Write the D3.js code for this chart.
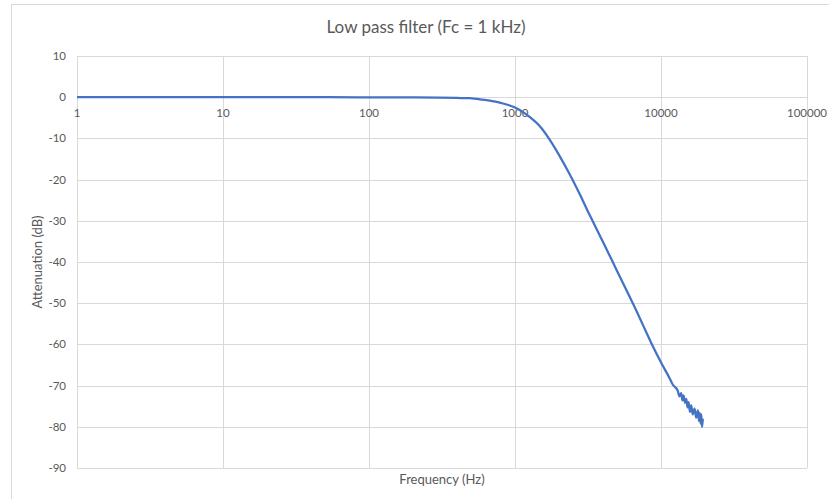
<!DOCTYPE html>
<html>
<head>
<meta charset="utf-8">
<script src="https://cdn.jsdelivr.net/npm/d3@7"></script>
<style>
  body { margin: 0; background: #fff; }
  text { font-family: Lato, "Open Sans", sans-serif; fill: #595959; }
</style>
</head>
<body>
<div id="chart"></div>
<script>
// frequency (Hz) and attenuation (dB)
var freqs = [1, 2, 5, 10, 20, 50, 100, 200, 300, 400, 490, 600, 700, 786, 900, 1000,
  1259, 1500, 1727, 2000, 2368, 2483, 2800, 3247, 3510, 4000, 4570, 5350, 6265, 6425,
  7500, 8590, 10050, 11450, 12060, 13000, 13400, 13770, 14000, 14280, 14600, 14900, 15200,
  15450, 15800, 16110, 16500, 16980, 17400, 17900, 18200, 18400, 18700, 18870, 19100, 19350];
var dbs = [0, 0, 0, 0, 0, 0, -0.02, -0.05, -0.1, -0.18, -0.25, -0.6, -0.95, -1.3, -1.9, -2.5,
  -4.8, -7.3, -10.3, -14.0, -18.7, -20.1, -23.8, -28.6, -31.0, -35.1, -39.3, -44.3, -49.3, -50.1,
  -55.2, -59.7, -64.5, -68.2, -69.8, -71.2, -72.6, -71.8, -73.6, -72.4, -74.2, -73.2, -75.3,
  -74.0, -76.4, -74.8, -77.0, -75.6, -77.8, -76.0, -78.6, -76.6, -79.2, -77.0, -80.0, -78.0];
var xTicks = [1, 10, 100, 1000, 10000, 100000];
var yTicks = [10, 0, -10, -20, -30, -40, -50, -60, -70, -80, -90];

var W = 829, H = 499;
var margin = {top: 56, right: 22, bottom: 31, left: 77},
    width = W - margin.left - margin.right,
    height = H - margin.top - margin.bottom;

var svg = d3.select("#chart").append("svg")
    .attr("width", W)
    .attr("height", H);

// chart area border
svg.append("rect")
    .attr("x", 11.5).attr("y", 4.5)
    .attr("width", 840).attr("height", 520)
    .attr("fill", "none")
    .attr("stroke", "#d9d9d9");

var g = svg.append("g")
    .attr("transform", "translate(" + margin.left + "," + margin.top + ")");

var x = d3.scaleLog().domain([1, 100000]).range([0, width]),
    y = d3.scaleLinear().domain([-90, 10]).range([height, 0]);

// gridlines
g.selectAll(".hgrid")
  .data(yTicks)
  .enter().append("line")
    .attr("x1", 0).attr("x2", width)
    .attr("y1", function(d) { return Math.round(y(d)) + 0.5; })
    .attr("y2", function(d) { return Math.round(y(d)) + 0.5; })
    .attr("stroke", "#d9d9d9");

g.selectAll(".vgrid")
  .data(xTicks)
  .enter().append("line")
    .attr("y1", 0).attr("y2", height)
    .attr("x1", function(d) { return Math.round(x(d)) + 0.5; })
    .attr("x2", function(d) { return Math.round(x(d)) + 0.5; })
    .attr("stroke", "#d9d9d9");

// y tick labels
g.selectAll(".ylab")
  .data(yTicks)
  .enter().append("text")
    .attr("x", -11)
    .attr("y", function(d) { return y(d) + 4; })
    .attr("text-anchor", "end")
    .style("font-size", "11.5px")
    .text(function(d) { return d; });

// x tick labels sit under the 0 dB line
g.selectAll(".xlab")
  .data(xTicks)
  .enter().append("text")
    .attr("x", function(d) { return x(d); })
    .attr("y", y(0) + 20)
    .attr("text-anchor", "middle")
    .style("font-size", "11.5px")
    .text(function(d) { return d; });

var pts = freqs.map(function(f, i) { return [f, dbs[i]]; });

g.append("path")
    .datum(pts)
    .attr("fill", "none")
    .attr("stroke", "#4472c4")
    .attr("stroke-width", 2.25)
    .attr("stroke-linejoin", "round")
    .attr("d", d3.line()
      .x(function(d) { return x(d[0]); })
      .y(function(d) { return y(d[1]); })
      .curve(d3.curveMonotoneX));

svg.append("text")
    .attr("x", 426)
    .attr("y", 33)
    .attr("text-anchor", "middle")
    .style("font-size", "17px")
    .text("Low pass filter (Fc = 1 kHz)");

svg.append("text")
    .attr("x", 442)
    .attr("y", 484)
    .attr("text-anchor", "middle")
    .style("font-size", "13px")
    .text("Frequency (Hz)");

svg.append("text")
    .attr("transform", "translate(42,262) rotate(-90)")
    .attr("text-anchor", "middle")
    .style("font-size", "13px")
    .text("Attenuation (dB)");
</script>
</body>
</html>
